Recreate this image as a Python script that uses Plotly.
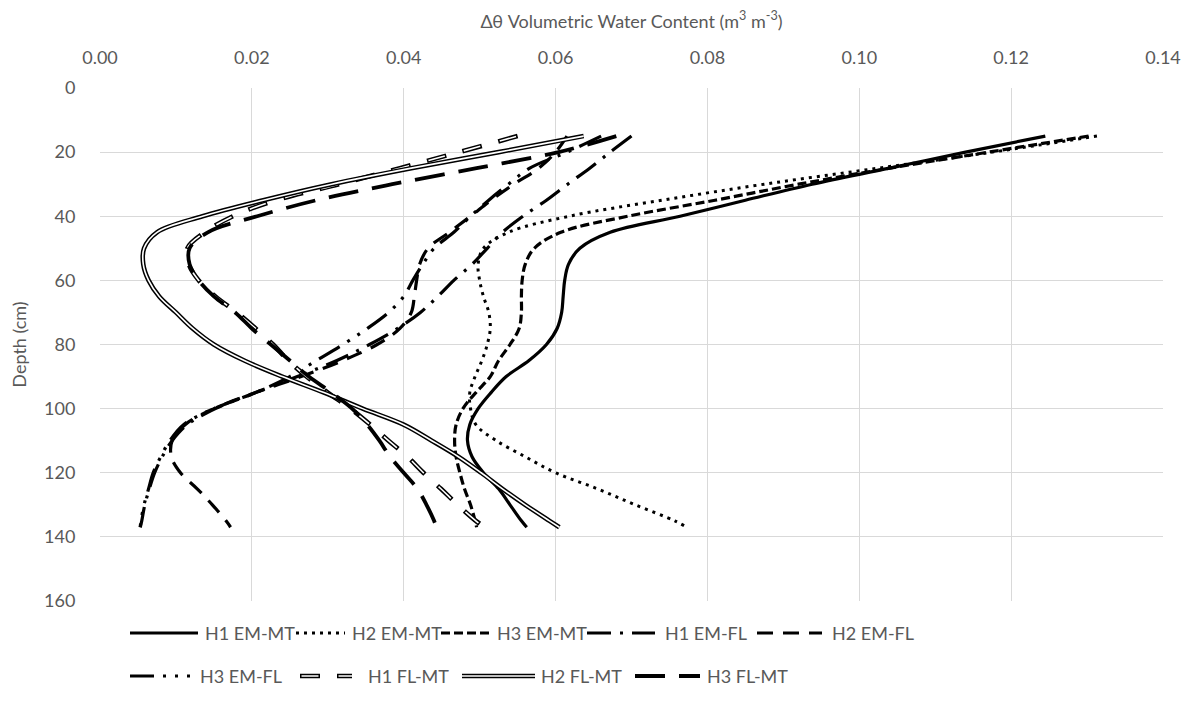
import plotly.graph_objects as go

# ---------------- data ----------------
depth = [15, 20, 25, 30, 35, 40, 45, 50, 55, 60, 65, 70, 75, 80, 85, 90,
         95, 100, 105, 110, 115, 120, 125, 130, 135, 137]

h1_em_mt = [0.1245, 0.1140, 0.1040, 0.0938, 0.0850, 0.0764, 0.0672, 0.0632, 0.0617, 0.0612,
            0.0610, 0.0608, 0.0602, 0.0588, 0.0565, 0.0535, 0.0515, 0.0498, 0.0487, 0.0484,
            0.0490, 0.0505, 0.0525, 0.0540, 0.0555, 0.0562]
h2_em_mt = [0.1313, 0.1175, 0.1025, 0.0875, 0.0740, 0.0618, 0.0538, 0.0505, 0.0498, 0.0500,
            0.0505, 0.0512, 0.0514, 0.0510, 0.0503, 0.0494, 0.0487, 0.0488, 0.0495, 0.0522,
            0.0560, 0.0600, 0.0655, 0.0705, 0.0757, 0.0773]
h3_em_mt = [0.1302, 0.1170, 0.1040, 0.0920, 0.0810, 0.0695, 0.0607, 0.0572, 0.0560, 0.0556,
            0.0555, 0.0555, 0.0552, 0.0540, 0.0525, 0.0514, 0.0495, 0.0478, 0.0469, 0.0467,
            0.0469, 0.0474, 0.0480, 0.0488, 0.0494, 0.0496]
h1_em_fl = [0.0700, 0.0672, 0.0645, 0.0616, 0.0588, 0.0557, 0.0530, 0.0510, 0.0490, 0.0466,
            0.0445, 0.0422, 0.0392, 0.0355, 0.0312, 0.0260, 0.0205, 0.0152, 0.0115, 0.0095,
            0.0082, 0.0072, 0.0065, 0.0059, 0.0055, 0.0053]
h2_em_fl = [0.0615, 0.0600, 0.0578, 0.0545, 0.0515, 0.0488, 0.0460, 0.0432, 0.0421, 0.0417,
            0.0414, 0.0410, 0.0395, 0.0365, 0.0320, 0.0265, 0.0205, 0.0150, 0.0112, 0.0095,
            0.0094, 0.0106, 0.0128, 0.0148, 0.0166, 0.0172]
h3_em_fl = [0.0660, 0.0615, 0.0566, 0.0538, 0.0512, 0.0488, 0.0466, 0.0440, 0.0425, 0.0412,
            0.0400, 0.0380, 0.0352, 0.0320, 0.0285, 0.0250, 0.0205, 0.0150, 0.0110, 0.0092,
            0.0080, 0.0070, 0.0064, 0.0058, 0.0054, 0.0053]
h1_fl_mt = [0.0550, 0.0473, 0.0395, 0.0315, 0.0232, 0.0175, 0.0138, 0.0115, 0.0117, 0.0130,
            0.0152, 0.0180, 0.0205, 0.0228, 0.0248, 0.0272, 0.0300, 0.0330, 0.0356, 0.0380,
            0.0405, 0.0426, 0.0449, 0.0471, 0.0495, 0.0507]
h2_fl_mt = [0.0637, 0.0525, 0.0410, 0.0305, 0.0215, 0.0135, 0.0075, 0.0058, 0.0057, 0.0064,
            0.0078, 0.0100, 0.0122, 0.0150, 0.0190, 0.0240, 0.0295, 0.0346, 0.0400, 0.0437,
            0.0472, 0.0502, 0.0530, 0.0560, 0.0592, 0.0605]
h3_fl_mt = [0.0680, 0.0604, 0.0496, 0.0385, 0.0285, 0.0207, 0.0142, 0.0118, 0.0118, 0.0130,
            0.0150, 0.0178, 0.0200, 0.0225, 0.0250, 0.0275, 0.0305, 0.0332, 0.0352, 0.0368,
            0.0382, 0.0400, 0.0418, 0.0430, 0.0440, 0.0443]

names = ["H1 EM-MT", "H2 EM-MT", "H3 EM-MT", "H1 EM-FL", "H2 EM-FL",
         "H3 EM-FL", "H1 FL-MT", "H2 FL-MT", "H3 FL-MT"]
values = [h1_em_mt, h2_em_mt, h3_em_mt, h1_em_fl, h2_em_fl,
          h3_em_fl, h1_fl_mt, h2_fl_mt, h3_fl_mt]

x_ticks = [0.00, 0.02, 0.04, 0.06, 0.08, 0.10, 0.12, 0.14]
y_ticks = [0, 20, 40, 60, 80, 100, 120, 140, 160]

# ---------------- styles ----------------
BLACK = "#000000"
TXT = "#595959"
GRID = "#d9d9d9"
FONT = "Lato, 'Open Sans', sans-serif"
FS = 18

# (outer width, outer dash, inner white width or None, inner dash)
styles = [
    (3.2, "solid", None, None),
    (3.0, "3px,5px", None, None),
    (3.2, "9px,4px", None, None),
    (3.2, "24px,9px,3px,9px", None, None),
    (3.2, "16px,10px", None, None),
    (3.2, "24px,9px,3px,9px,3px,9px", None, None),
    (4.6, "20px,17px", 1.6, "0px,1.5px,17px,18.5px"),
    (4.6, "solid", 1.6, "solid"),
    (3.8, "30px,14px", None, None),
]

fig = go.Figure()
for name, vals, (w, d, iw, idash) in zip(names, values, styles):
    fig.add_trace(go.Scatter(
        x=vals, y=depth, mode="lines", name=name, showlegend=False,
        line=dict(color=BLACK, width=w, dash=d, shape="spline", smoothing=1.0),
        hoverinfo="skip"))
    if iw:
        fig.add_trace(go.Scatter(
            x=vals, y=depth, mode="lines", name=name + " inner", showlegend=False,
            line=dict(color="#ffffff", width=iw, dash=idash, shape="spline", smoothing=1.0),
            hoverinfo="skip"))

# ---------------- geometry (page has an 8px body margin) ----------------
OFF = 8
W, H = 1196 - 2 * OFF, 715 - 2 * OFF
PL, PR, PT, PB = 100, 1163, 88, 601          # plot area in window pixels
ML, MR, MT, MB = PL - OFF, W - (PR - OFF), PT - OFF, H - (PB - OFF)
PW, PH = PR - PL, PB - PT


def px_x(p):
    return (p - PL) / PW


def px_y(p):
    return (PB - p) / PH


legend_rows = [
    (633, [(130, 198, 203), (296, 345, 350), (441, 491, 495), (587, 655, 663), (757, 822, 830)]),
    (676, [(130, 190, 198), (300, 352, 366), (462, 535, 539), (635, 700, 705)]),
]
shapes = []
annotations = []
k = 0
for row_y, items in legend_rows:
    for (x0, x1, tx) in items:
        w, d, iw, idash = styles[k]
        shapes.append(dict(type="line", xref="paper", yref="paper",
                           x0=px_x(x0), x1=px_x(x1), y0=px_y(row_y), y1=px_y(row_y),
                           line=dict(color=BLACK, width=w, dash=d)))
        if iw:
            shapes.append(dict(type="line", xref="paper", yref="paper",
                               x0=px_x(x0), x1=px_x(x1), y0=px_y(row_y), y1=px_y(row_y),
                               line=dict(color="#ffffff", width=iw, dash=idash)))
        annotations.append(dict(text=names[k], xref="paper", yref="paper",
                                x=px_x(tx), y=px_y(row_y), xanchor="left", yanchor="middle",
                                showarrow=False, font=dict(family=FONT, size=FS, color=TXT)))
        k += 1

fig.update_layout(
    width=W, height=H,
    margin=dict(l=ML, r=MR, t=MT, b=MB, pad=0, autoexpand=False),
    paper_bgcolor="white", plot_bgcolor="white",
    font=dict(family=FONT, size=FS, color=TXT),
    showlegend=False,
    shapes=shapes,
    annotations=annotations,
    xaxis=dict(
        side="top", range=[0, 0.14], tickvals=x_ticks, tickformat=".2f",
        showgrid=True, gridcolor=GRID, gridwidth=1.3, zeroline=False, showline=False,
        ticks="outside", ticklen=16, tickcolor="rgba(0,0,0,0)",
        tickfont=dict(family=FONT, size=FS, color=TXT),
        title=dict(text="Δθ Volumetric Water Content (m<sup>3</sup> m<sup>-3</sup>)",
                   font=dict(family=FONT, size=FS, color=TXT), standoff=18),
    ),
    yaxis=dict(
        range=[160, 0], tickvals=y_ticks,
        showgrid=True, gridcolor=GRID, gridwidth=1.3, zeroline=False, showline=False,
        ticks="outside", ticklen=20, tickcolor="rgba(0,0,0,0)",
        tickfont=dict(family=FONT, size=FS, color=TXT),
        title=dict(text="Depth (cm)", font=dict(family=FONT, size=FS, color=TXT), standoff=18),
    ),
)

fig.write_html("out.html", config={"displayModeBar": False})
